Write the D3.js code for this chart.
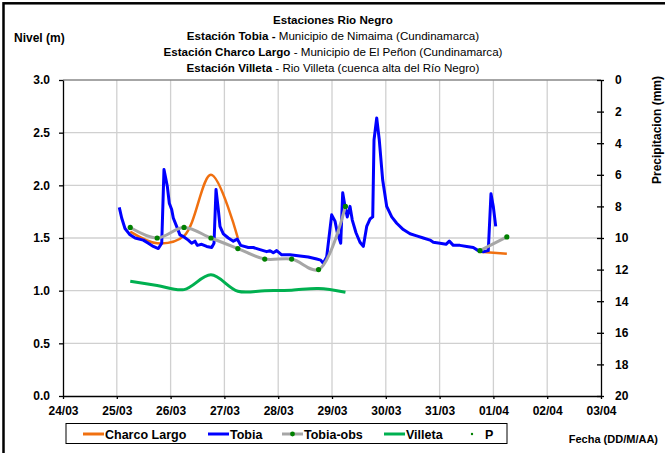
<!DOCTYPE html>
<meta charset="utf-8">
<script src="https://d3js.org/d3.v7.min.js"></script>
<style>
  body { margin: 0; background: #fff; }
  text { font-family: "Liberation Sans", Arial, sans-serif; }
  .bold { font-weight: bold; }
</style>
<div id="my_dataviz"></div>
<script>

// time in days after 24/03 00:00
var tobiaT = [1.046, 1.091, 1.152, 1.245, 1.34, 1.493, 1.586, 1.679, 1.772, 1.835, 1.877, 1.939, 1.976, 2.02, 2.05, 2.112, 2.174, 2.249, 2.329, 2.391, 2.453, 2.496, 2.578, 2.671, 2.764, 2.807, 2.844, 2.887, 2.918, 2.98, 3.073, 3.166, 3.24, 3.303, 3.444, 3.537, 3.662, 3.786, 3.848, 3.909, 3.972, 4.065, 4.219, 4.405, 4.559, 4.716, 4.79, 4.838, 4.901, 4.994, 5.056, 5.099, 5.162, 5.199, 5.242, 5.284, 5.335, 5.377, 5.446, 5.52, 5.582, 5.645, 5.706, 5.757, 5.781, 5.831, 5.879, 5.942, 6.017, 6.11, 6.203, 6.325, 6.45, 6.574, 6.697, 6.822, 6.883, 7.007, 7.119, 7.18, 7.255, 7.379, 7.504, 7.626, 7.719, 7.812, 7.905, 7.955, 7.998, 8.043];
var tobiaV = [1.79, 1.69, 1.59, 1.53, 1.50, 1.48, 1.45, 1.42, 1.40, 1.45, 2.15, 1.99, 1.83, 1.77, 1.69, 1.61, 1.53, 1.51, 1.48, 1.45, 1.47, 1.43, 1.44, 1.42, 1.41, 1.45, 1.96, 1.77, 1.61, 1.54, 1.50, 1.47, 1.49, 1.43, 1.41, 1.41, 1.39, 1.37, 1.38, 1.36, 1.38, 1.34, 1.34, 1.33, 1.32, 1.30, 1.29, 1.26, 1.32, 1.72, 1.66, 1.55, 1.45, 1.93, 1.80, 1.70, 1.80, 1.67, 1.55, 1.46, 1.42, 1.61, 1.68, 1.70, 2.43, 2.64, 2.43, 2.05, 1.80, 1.70, 1.64, 1.58, 1.54, 1.52, 1.50, 1.48, 1.46, 1.45, 1.44, 1.47, 1.43, 1.43, 1.42, 1.41, 1.38, 1.37, 1.38, 1.92, 1.80, 1.61];

var charcoT = [1.25, 1.75, 2.25, 2.75, 3.25, null, 7.75, 8.25];
var charcoV = [1.56, 1.45, 1.52, 2.10, 1.50, null, 1.37, 1.35];

var obsT = [1.25, 1.75, 2.25, 2.75, 3.25, 3.75, 4.25, 4.75, 5.25, null, 7.75, 8.25];
var obsV = [1.60, 1.50, 1.60, 1.50, 1.40, 1.30, 1.30, 1.20, 1.80, null, 1.38, 1.51];

var villetaT = [1.25, 1.75, 2.25, 2.75, 3.25, 3.75, 4.25, 4.75, 5.25];
var villetaV = [1.09, 1.05, 1.01, 1.15, 0.995, 1.0, 1.005, 1.02, 0.985];

var pT = [];
var pV = [];

var titleLines = [
  [["Estaciones Rio Negro", true]],
  [["Estación Tobia - ", true], ["Municipio de Nimaima (Cundinamarca)", false]],
  [["Estación Charco Largo", true], [" - Municipio de El Peñon (Cundinamarca)", false]],
  [["Estación Villeta", true], [" -  Rio Villeta (cuenca alta del Río Negro)", false]]
];
var legendNames = ["Charco Largo", "Tobia", "Tobia-obs", "Villeta", "P"];

var base = Date.UTC(2011, 2, 24);
function toDate(t) { return new Date(base + t * 864e5); }
function zip(ts, vs) {
  return ts.map(function(t, i) { return t == null ? null : {date: toDate(t), value: vs[i]}; });
}

function drawChart() {
  var width = 665, height = 453;
  var pLeft = 63, pRight = 601, pTop = 80, pBottom = 396;

  var svg = d3.select("#my_dataviz").append("svg")
    .attr("width", width).attr("height", height);

  svg.append("rect").attr("x", 3.5).attr("y", 3.3).attr("width", 700).attr("height", 500)
    .attr("fill", "none").attr("stroke", "#000").attr("stroke-width", 2.5);

  var x = d3.scaleUtc().domain([toDate(0), toDate(10)]).range([pLeft, pRight]);
  var y = d3.scaleLinear().domain([0, 3]).range([pBottom, pTop]);
  var yR = d3.scaleLinear().domain([0, 20]).range([pTop, pBottom]);

  // grid
  var grid = svg.append("g");
  grid.selectAll(".vg").data(x.ticks(d3.utcDay.every(1)).slice(1, -1)).enter().append("line")
    .attr("x1", function(d) { return x(d); }).attr("x2", function(d) { return x(d); })
    .attr("y1", pTop).attr("y2", pBottom).attr("stroke", "#d0d0d0").attr("stroke-width", 1.3);
  grid.selectAll(".hg").data(d3.range(0.5, 3.01, 0.5)).enter().append("line")
    .attr("x1", pLeft).attr("x2", pRight)
    .attr("y1", function(d) { return y(d); }).attr("y2", function(d) { return y(d); })
    .attr("stroke", function(d) { return d === 3 ? "#888" : "#d0d0d0"; }).attr("stroke-width", 1.3);

  // axes
  var ax = svg.append("g").attr("class", "bold").attr("transform", "translate(0," + pBottom + ")")
    .call(d3.axisBottom(x).ticks(d3.utcDay.every(1)).tickFormat(d3.utcFormat("%d/%m")).tickSize(3).tickPadding(7).tickSizeOuter(0));
  var ay = svg.append("g").attr("class", "bold").attr("transform", "translate(" + pLeft + ",0)")
    .call(d3.axisLeft(y).tickValues(d3.range(0, 3.01, 0.5)).tickFormat(d3.format(".1f")).tickSize(4).tickPadding(9).tickSizeOuter(0));
  var ar = svg.append("g").attr("class", "bold").attr("transform", "translate(" + pRight + ",0)")
    .call(d3.axisRight(yR).tickValues(d3.range(0, 20.1, 2)).tickSize(3).tickPadding(11).tickSizeOuter(0));
  ar.selectAll(".tick line").attr("x1", -4);
  [ax, ay, ar].forEach(function(a) {
    a.selectAll("text").attr("font-size", 12).attr("fill", "#000")
      .attr("font-family", "Liberation Sans, Arial, sans-serif");
    a.selectAll("line, path").attr("stroke", "#000").attr("stroke-width", 1.3);
  });

  // series
  var line = d3.line().defined(function(d) { return d != null; })
    .x(function(d) { return x(d.date); }).y(function(d) { return y(d.value); });
  var smooth = d3.line().defined(function(d) { return d != null; })
    .x(function(d) { return x(d.date); }).y(function(d) { return y(d.value); })
    .curve(d3.curveCatmullRom.alpha(0.5));

  var charco = zip(charcoT, charcoV), tobia = zip(tobiaT, tobiaV),
      obs = zip(obsT, obsV), villeta = zip(villetaT, villetaV);

  svg.append("path").datum(charco).attr("d", smooth).attr("fill", "none")
    .attr("stroke", "#f07010").attr("stroke-width", 2.5);
  svg.append("path").datum(tobia).attr("d", line).attr("fill", "none")
    .attr("stroke", "#0000ff").attr("stroke-width", 3).attr("stroke-linejoin", "round");
  svg.append("path").datum(obs).attr("d", smooth).attr("fill", "none")
    .attr("stroke", "#a6a6a6").attr("stroke-width", 3);
  svg.selectAll(".obsdot").data(obs.filter(function(d) { return d; })).enter().append("circle")
    .attr("cx", function(d) { return x(d.date); }).attr("cy", function(d) { return y(d.value); })
    .attr("r", 2.6).attr("fill", "#008000");
  svg.append("path").datum(villeta).attr("d", smooth).attr("fill", "none")
    .attr("stroke", "#00b050").attr("stroke-width", 3);
  svg.selectAll(".pdot").data(zip(pT, pV)).enter().append("circle")
    .attr("cx", function(d) { return x(d.date); }).attr("cy", function(d) { return yR(d.value); })
    .attr("r", 1.5).attr("fill", "#008000");

  // titles
  titleLines.forEach(function(parts, i) {
    var t = svg.append("text").attr("x", 333).attr("y", 24 + i * 16)
      .attr("text-anchor", "middle").attr("font-size", 11.6);
    parts.forEach(function(p) {
      t.append("tspan").text(p[0]).attr("font-weight", p[1] ? "bold" : "normal");
    });
  });
  svg.append("text").attr("class", "bold").attr("x", 14).attr("y", 42).attr("font-size", 12).text("Nivel (m)");
  svg.append("text").attr("class", "bold").attr("transform", "translate(661,130) rotate(-90)")
    .attr("text-anchor", "middle").attr("font-size", 12).text("Precipitacion (mm)");
  svg.append("text").attr("class", "bold").attr("x", 658).attr("y", 443).attr("text-anchor", "end")
    .attr("font-size", 11).text("Fecha (DD/M/AA)");

  // legend
  var lg = svg.append("g");
  lg.append("rect").attr("x", 66).attr("y", 423.5).attr("width", 441).attr("height", 20)
    .attr("fill", "#fff").attr("stroke", "#000").attr("stroke-width", 1);
  var legendX = [83, 208, 282, 384, 468];
  var legendColors = ["#f07010", "#0000ff", "#a6a6a6", "#00b050", null];
  legendNames.forEach(function(name, i) {
    var g = lg.append("g").attr("transform", "translate(" + legendX[i] + ",434)");
    if (legendColors[i]) {
      g.append("line").attr("x1", 0).attr("x2", 21).attr("stroke", legendColors[i]).attr("stroke-width", 3);
    }
    if (name === "Tobia-obs") {
      g.append("circle").attr("cx", 10.5).attr("r", 2.4).attr("fill", "#008000");
    }
    if (name === "P") {
      g.append("circle").attr("cx", 4).attr("r", 1.2).attr("fill", "#008000");
    }
    g.append("text").attr("class", "bold").attr("x", name === "P" ? 17 : 22).attr("y", 4.5)
      .attr("font-size", 12.5).text(name);
  });
}

drawChart();
</script>
